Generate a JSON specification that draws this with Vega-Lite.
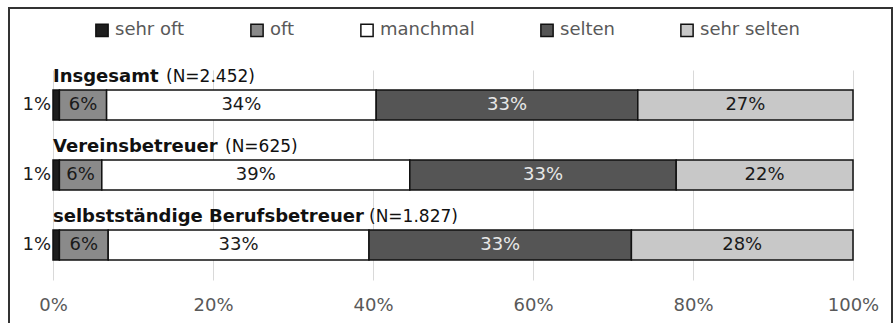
{
  "$schema": "https://vega.github.io/schema/vega-lite/v6.json",
  "width": 800,
  "height": 210,
  "autosize": {"type": "none"},
  "padding": {"left": 53, "top": 70, "right": 41, "bottom": 43},
  "background": "white",
  "config": {"view": {"stroke": null}, "font": "DejaVu Sans"},
  "datasets": {
    "segs": [
      {"g": "Insgesamt", "cat": "sehr oft", "v": 0.8, "label": "1%"},
      {"g": "Insgesamt", "cat": "oft", "v": 5.9, "label": "6%"},
      {"g": "Insgesamt", "cat": "manchmal", "v": 33.7, "label": "34%"},
      {"g": "Insgesamt", "cat": "selten", "v": 32.7, "label": "33%"},
      {"g": "Insgesamt", "cat": "sehr selten", "v": 26.9, "label": "27%"},
      {"g": "Vereinsbetreuer", "cat": "sehr oft", "v": 0.8, "label": "1%"},
      {"g": "Vereinsbetreuer", "cat": "oft", "v": 5.3, "label": "6%"},
      {"g": "Vereinsbetreuer", "cat": "manchmal", "v": 38.5, "label": "39%"},
      {"g": "Vereinsbetreuer", "cat": "selten", "v": 33.3, "label": "33%"},
      {"g": "Vereinsbetreuer", "cat": "sehr selten", "v": 22.1, "label": "22%"},
      {"g": "selbstständige Berufsbetreuer", "cat": "sehr oft", "v": 0.8, "label": "1%"},
      {"g": "selbstständige Berufsbetreuer", "cat": "oft", "v": 6.1, "label": "6%"},
      {"g": "selbstständige Berufsbetreuer", "cat": "manchmal", "v": 32.6, "label": "33%"},
      {"g": "selbstständige Berufsbetreuer", "cat": "selten", "v": 32.8, "label": "33%"},
      {"g": "selbstständige Berufsbetreuer", "cat": "sehr selten", "v": 27.7, "label": "28%"}
    ],
    "groups": [
      {"g": "Insgesamt", "name": "Insgesamt", "n": "(N=2.452)"},
      {"g": "Vereinsbetreuer", "name": "Vereinsbetreuer", "n": "(N=625)"},
      {"g": "selbstständige Berufsbetreuer", "name": "selbstständige Berufsbetreuer", "n": "(N=1.827)"}
    ]
  },
  "resolve": {"scale": {"y": "independent"}},
  "layer": [
    {
      "data": {"values": [{}]},
      "mark": {"type": "rect", "fill": "transparent", "stroke": "#333333", "strokeWidth": 2},
      "encoding": {
        "x": {"datum": -5.5, "type": "quantitative", "scale": {"domain": [0, 100]}, "title": null},
        "x2": {"datum": 104.875},
        "y": {"datum": 1.2952, "type": "quantitative", "scale": {"domain": [0, 1]}, "axis": null},
        "y2": {"datum": -0.3}
      }
    },
    {
      "resolve": {"scale": {"color": "independent"}},
      "layer": [
        {
          "data": {"name": "segs"},
          "transform": [{"stack": "v", "groupby": ["g"], "as": ["s0", "s1"]}],
          "mark": {"type": "bar", "height": 30, "stroke": "#111111", "strokeWidth": 1.5},
          "encoding": {
            "x": {
              "field": "v", "type": "quantitative", "stack": "zero",
              "scale": {"domain": [0, 100]},
              "axis": {
                "values": [0, 20, 40, 60, 80, 100], "labelExpr": "datum.value + '%'",
                "grid": true, "gridColor": "#d9d9d9", "gridWidth": 1,
                "domain": false, "ticks": false, "labelPadding": 16, "labelFlush": false,
                "labelColor": "#595959", "labelFontSize": 18, "labelFont": "DejaVu Sans", "title": null
              }
            },
            "order": {"field": "s0", "type": "quantitative", "sort": "ascending"},
            "y": {
              "field": "g", "type": "nominal",
              "scale": {"domain": ["Insgesamt", "Vereinsbetreuer", "selbstständige Berufsbetreuer"], "paddingInner": 0, "paddingOuter": 0},
              "axis": null
            },
            "color": {
              "field": "cat", "type": "nominal",
              "sort": ["sehr oft", "oft", "manchmal", "selten", "sehr selten"],
              "scale": {
                "domain": ["sehr oft", "oft", "manchmal", "selten", "sehr selten"],
                "range": ["#1e1e1e", "#8a8a8a", "#ffffff", "#555555", "#c8c8c8"]
              },
              "legend": {
                "orient": "none", "legendX": 40, "legendY": -49, "direction": "horizontal",
                "title": null, "symbolType": "square", "symbolSize": 150,
                "symbolStrokeColor": "#111111", "symbolStrokeWidth": 1.5,
                "labelFontSize": 18, "labelColor": "#595959", "labelFont": "DejaVu Sans",
                "columnPadding": 62, "labelOffset": 4
              }
            }
          }
        },
        {
          "data": {"name": "segs"},
          "transform": [{"stack": "v", "groupby": ["g"], "as": ["s0", "s1"]}],
          "mark": {"type": "text", "fontSize": 18, "baseline": "middle", "align": "center"},
          "encoding": {
            "x": {"field": "v", "type": "quantitative", "stack": "zero", "bandPosition": 0.5},
            "order": {"field": "s0", "type": "quantitative", "sort": "ascending"},
            "y": {"field": "g", "type": "nominal"},
            "color": {
              "field": "cat", "type": "nominal",
              "sort": ["sehr oft", "oft", "manchmal", "selten", "sehr selten"],
              "scale": {
                "domain": ["sehr oft", "oft", "manchmal", "selten", "sehr selten"],
                "range": ["#1a1a1a", "#1a1a1a", "#1a1a1a", "#e8e8e8", "#1a1a1a"]
              },
              "legend": null
            },
            "text": {"condition": {"test": "datum.cat === 'sehr oft'", "value": ""}, "field": "label"}
          }
        },
        {
          "data": {"name": "segs"},
          "transform": [{"filter": "datum.cat === 'sehr oft'"}],
          "mark": {"type": "text", "fontSize": 18, "baseline": "middle", "align": "right", "dx": -2, "color": "#1a1a1a"},
          "encoding": {
            "x": {"datum": 0, "type": "quantitative"},
            "y": {"field": "g", "type": "nominal"},
            "text": {"field": "label"}
          }
        },
        {
          "data": {"name": "groups"},
          "mark": {"type": "text", "fontSize": 18, "fontWeight": "bold", "baseline": "middle", "align": "left", "dy": -28, "color": "#111111"},
          "encoding": {
            "x": {"datum": 0, "type": "quantitative"},
            "y": {"field": "g", "type": "nominal"},
            "text": {"field": "name"}
          }
        },
        {
          "data": {"name": "groups"},
          "transform": [{"filter": "datum.g === 'Insgesamt'"}],
          "mark": {"type": "text", "fontSize": 17, "baseline": "middle", "align": "left", "dy": -28, "dx": 113, "color": "#111111"},
          "encoding": {
            "x": {"datum": 0, "type": "quantitative"},
            "y": {"field": "g", "type": "nominal"},
            "text": {"field": "n"}
          }
        },
        {
          "data": {"name": "groups"},
          "transform": [{"filter": "datum.g === 'Vereinsbetreuer'"}],
          "mark": {"type": "text", "fontSize": 17, "baseline": "middle", "align": "left", "dy": -28, "dx": 172, "color": "#111111"},
          "encoding": {
            "x": {"datum": 0, "type": "quantitative"},
            "y": {"field": "g", "type": "nominal"},
            "text": {"field": "n"}
          }
        },
        {
          "data": {"name": "groups"},
          "transform": [{"filter": "datum.g === 'selbstständige Berufsbetreuer'"}],
          "mark": {"type": "text", "fontSize": 17, "baseline": "middle", "align": "left", "dy": -28, "dx": 316, "color": "#111111"},
          "encoding": {
            "x": {"datum": 0, "type": "quantitative"},
            "y": {"field": "g", "type": "nominal"},
            "text": {"field": "n"}
          }
        }
      ]
    }
  ]
}
